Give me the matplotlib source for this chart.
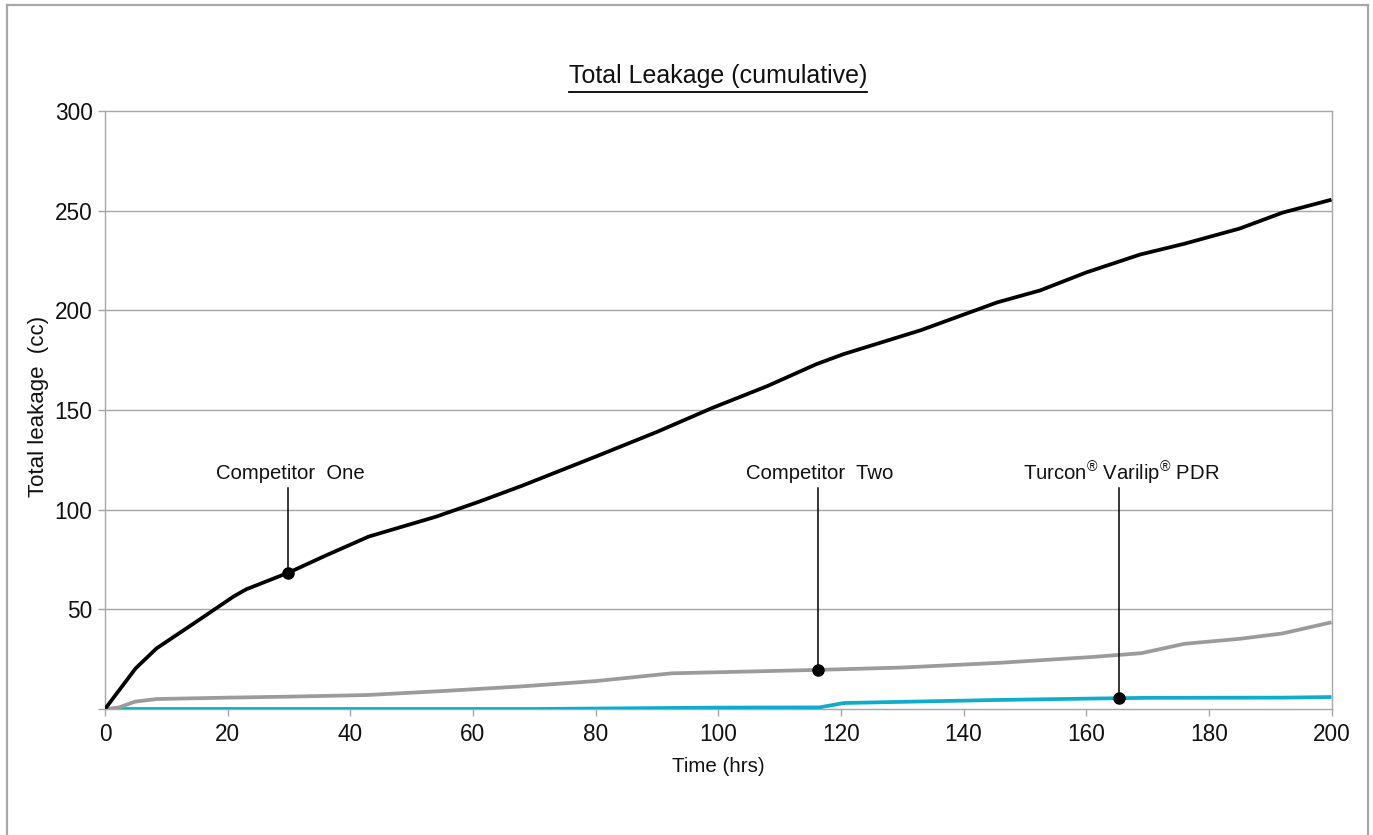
import numpy as np
import matplotlib
matplotlib.use("Agg")
import matplotlib.pyplot as plt
from matplotlib.lines import Line2D

plt.rcParams['font.family'] = ['Liberation Sans', 'DejaVu Sans']
plt.rcParams['mathtext.fontset'] = 'custom'
plt.rcParams['mathtext.rm'] = 'Liberation Sans'
plt.rcParams['mathtext.it'] = 'Liberation Sans'
plt.rcParams['mathtext.default'] = 'regular'

# ---- data ----
comp_one_t = [0, 5, 8.4, 15, 21, 23, 30, 36, 43, 54, 61, 68, 80, 90, 99, 108, 116, 120.4,
              133, 145.5, 152.5, 160, 168.8, 176, 185, 192, 200]
comp_one_v = [0, 20.4, 30.4, 44, 56.5, 60, 68.5, 77, 86.5, 96.5, 104, 112, 126.6, 139, 151,
              162, 173, 178, 190, 204, 210, 219, 228, 233.4, 241, 249, 255.5]

comp_two_t = [0, 2.2, 4.9, 8.4, 20, 30, 42.7, 55, 67.7, 80, 92.4, 116, 130, 146, 161, 169,
              176, 185, 192, 200]
comp_two_v = [0, 0.7, 3.7, 5, 5.7, 6.2, 7, 9, 11.3, 14, 17.9, 19.6, 20.8, 23.2, 26.1, 28,
              32.7, 35.2, 37.9, 43.5]

turcon_t = [0, 70, 100, 116.5, 120.5, 130, 145, 160, 170, 192, 200]
turcon_v = [0, 0, 0.7, 0.8, 3.0, 3.6, 4.5, 5.2, 5.6, 5.7, 6.0]

series_labels = ["Competitor  One", "Competitor  Two", "Turcon$^{®}$ Varilip$^{®}$ PDR"]
label_times = [29.8, 116.2, 165.3]

x_ticks = [0, 20, 40, 60, 80, 100, 120, 140, 160, 180, 200]
y_ticks = [0, 50, 100, 150, 200, 250, 300]
y_tick_labels = ["", "50", "100", "150", "200", "250", "300"]

title = "Total Leakage (cumulative)"
x_label = "Time (hrs)"
y_label = "Total leakage  (cc)"

# ---- figure ----
W, H = 1373, 835
fig = plt.figure(figsize=(W / 100, H / 100), dpi=100)
ax = fig.add_axes([105 / W, 1 - 709 / H, (1331.5 - 105) / W, (709 - 111) / H])

grid_c = "#a6a6a6"
for y in y_ticks[1:-1]:
    ax.axhline(y, color=grid_c, lw=1.0, zorder=1)

c_black = "#000000"
c_gray = "#9b9b9e"
c_cyan = "#0fadcb"

ax.plot(turcon_t, turcon_v, color=c_cyan, lw=2.7, zorder=3, solid_capstyle='butt')
ax.plot(comp_two_t, comp_two_v, color=c_gray, lw=2.7, zorder=3, solid_capstyle='butt')
ax.plot(comp_one_t, comp_one_v, color=c_black, lw=2.7, zorder=4, solid_capstyle='butt')

series = [(comp_one_t, comp_one_v), (comp_two_t, comp_two_v), (turcon_t, turcon_v)]
line_top = 111
text_y = 118
for (ts, vs), lab, t in zip(series, series_labels, label_times):
    v = np.interp(t, ts, vs)
    ax.plot([t, t], [v, line_top], color="black", lw=1.1, zorder=5)
    ax.plot([t], [v], marker='o', color="black", ms=8, zorder=6)
    ax.text(t + 0.4, text_y, lab, ha='center', va='center', fontsize=14.6, color="#111111", zorder=6)

ax.set_xlim(0, 200)
ax.set_ylim(0, 300)
ax.set_xticks(x_ticks)
ax.set_yticks(y_ticks)
ax.set_yticklabels(y_tick_labels)
ax.tick_params(axis='both', direction='out', length=5, width=1, color=grid_c,
               labelsize=16.3, labelcolor="#111111")
ax.tick_params(axis='x', pad=5)
ax.tick_params(axis='y', pad=4)
for s in ax.spines.values():
    s.set_color(grid_c)
    s.set_linewidth(1.0)

fig.text(718 / W, 1 - 767 / H, x_label, ha='center', va='center', fontsize=14.8, color="#111111")
fig.text(39 / W, 1 - 406 / H, y_label, ha='center', va='center', rotation=90,
         fontsize=16, color="#111111")

t_obj = fig.text(718 / W, 1 - 83 / H, title, ha='center', va='baseline', fontsize=18,
                 color="#111111")

# outer frame (left, top, right)
fc = "#a8a8a8"
fig.add_artist(Line2D([7 / W, 7 / W], [0, 1 - 5 / H], color=fc, lw=1.6, transform=fig.transFigure))
fig.add_artist(Line2D([7 / W, 1368 / W], [1 - 5 / H, 1 - 5 / H], color=fc, lw=1.6, transform=fig.transFigure))
fig.add_artist(Line2D([1368 / W, 1368 / W], [0, 1 - 5 / H], color=fc, lw=1.6, transform=fig.transFigure))

# underline title
fig.canvas.draw()
bb = t_obj.get_window_extent(renderer=fig.canvas.get_renderer())
uy = (H - 92) / H
fig.add_artist(Line2D([bb.x0 / W, bb.x1 / W], [uy, uy], color="black", lw=1.3,
                      transform=fig.transFigure))

fig.savefig("out.png", dpi=100, facecolor="white")
